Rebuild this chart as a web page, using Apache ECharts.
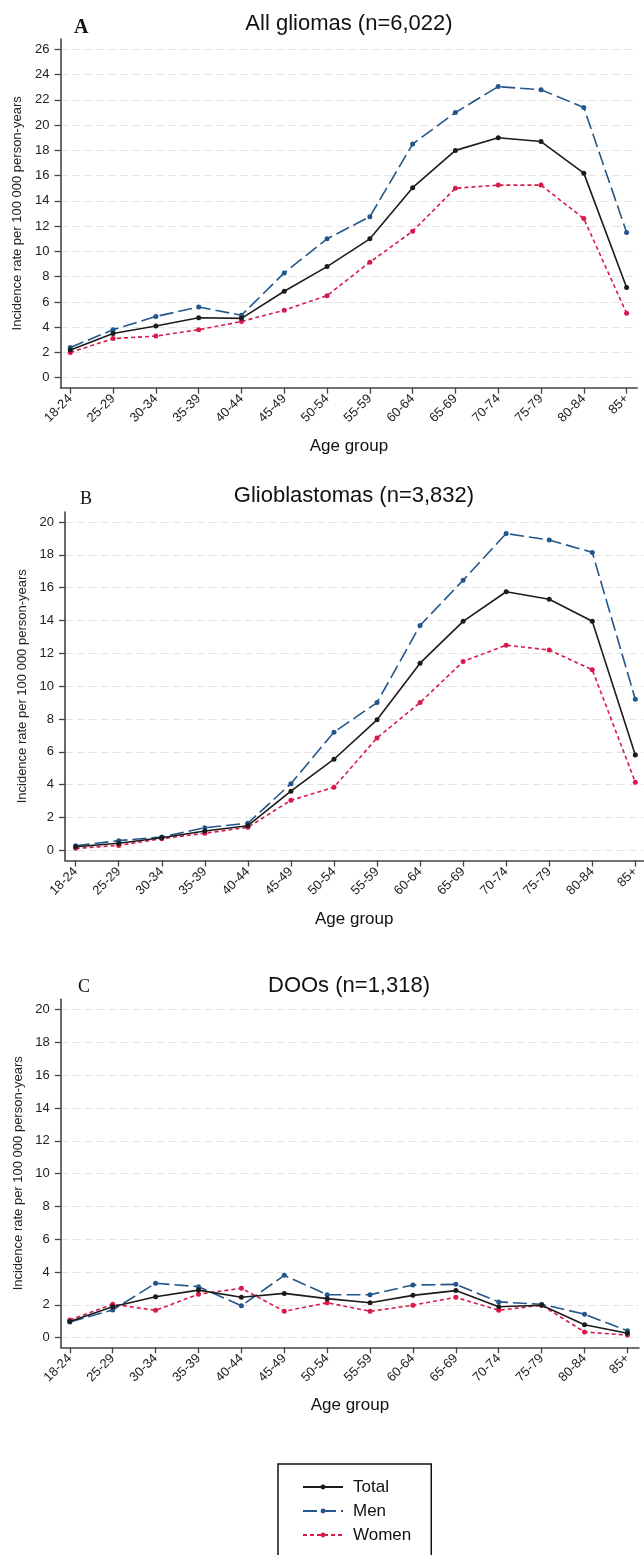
<!DOCTYPE html>
<html>
<head>
<meta charset="utf-8">
<script src="https://cdn.jsdelivr.net/npm/echarts@6/dist/echarts.min.js"></script>
<style>
html,body{margin:0;padding:0;background:#fff;}
#chart{width:644px;height:1555px;}
</style>
</head>
<body>
<div id="chart"></div>
<script>
// ---------- data ----------
const ageGroups = ['18-24','25-29','30-34','35-39','40-44','45-49','50-54','55-59','60-64','65-69','70-74','75-79','80-84','85+'];
const xTicks = [0,1,2,3,4,5,6,7,8,9,10,11,12,13];
const yTicksA = [0,2,4,6,8,10,12,14,16,18,20,22,24,26];
const yTicksBC = [0,2,4,6,8,10,12,14,16,18,20];

const gliomaTotal = [2.2,3.5,4.1,4.75,4.7,6.85,8.8,11.0,15.05,18.0,19.0,18.7,16.2,7.15];
const gliomaMen   = [2.4,3.8,4.85,5.6,4.95,8.3,11.0,12.75,18.5,21.0,23.05,22.8,21.4,11.5];
const gliomaWomen = [2.0,3.1,3.3,3.8,4.45,5.35,6.5,9.15,11.6,15.0,15.25,15.25,12.6,5.1];

const gbmTotal = [0.22,0.43,0.77,1.18,1.5,3.6,5.55,7.95,11.4,13.95,15.75,15.3,13.95,5.8];
const gbmMen   = [0.28,0.59,0.81,1.38,1.65,4.06,7.2,9.0,13.7,16.45,19.3,18.9,18.15,9.2];
const gbmWomen = [0.12,0.3,0.71,1.04,1.4,3.05,3.84,6.85,9.0,11.5,12.5,12.2,11.0,4.15];

const dooTotal = [0.98,1.89,2.5,2.9,2.46,2.7,2.38,2.13,2.58,2.87,1.89,1.98,0.79,0.27];
const dooMen   = [0.96,1.69,3.32,3.11,1.95,3.8,2.62,2.62,3.21,3.25,2.18,2.04,1.43,0.43];
const dooWomen = [1.08,2.04,1.67,2.65,3.01,1.61,2.13,1.61,1.98,2.46,1.67,1.98,0.35,0.16];

const titles = ['All gliomas (n=6,022)','Glioblastomas (n=3,832)','DOOs (n=1,318)'];
const letters = ['A','B','C'];
const seriesNames = ['Total','Men','Women'];

// ---------- styling ----------
const SANS = '"Liberation Sans", Arial, sans-serif';
const SERIF = '"Liberation Serif", "Times New Roman", serif';
const axisColor = '#444';
const colors = {Total:'#1c1c1c', Men:'#23568a', Women:'#d8194b'};
const dash = {Total:'solid', Men:[14,5], Women:[4,3]};

const panels = [
  {grid:{left:60.5, right:6.7, top:39, height:348.7}, xmin:-0.229, xmax:13.25, ymin:-0.79, ymax:26.82, yt:yTicksA,
   data:[gliomaTotal,gliomaMen,gliomaWomen], titleTop:13, titleX:349, letterX:74, letterTop:18, letterBold:'bold', letterSize:20},
  {grid:{left:65, right:0.5, top:512, height:348.5}, xmin:-0.248, xmax:13.19, ymin:-0.62, ymax:20.61, yt:yTicksBC,
   data:[gbmTotal,gbmMen,gbmWomen], titleTop:485, titleX:354, letterX:80, letterTop:490, letterBold:'normal', letterSize:18},
  {grid:{left:60.8, right:5, top:999.3, height:348}, xmin:-0.21, xmax:13.27, ymin:-0.585, ymax:20.62, yt:yTicksBC,
   data:[dooTotal,dooMen,dooWomen], titleTop:975, titleX:349, letterX:78, letterTop:978, letterBold:'normal', letterSize:18}
];

const grid = [], xAxis = [], yAxis = [], series = [], title = [];
panels.forEach((p, k) => {
  grid.push(Object.assign({containLabel:false}, p.grid));
  title.push({text:titles[k], left:p.titleX, top:p.titleTop, textAlign:'center', padding:0,
    textStyle:{fontFamily:SANS, fontSize:22, fontWeight:'normal', color:'#111'}});
  title.push({text:letters[k], left:p.letterX, top:p.letterTop, padding:0,
    textStyle:{fontFamily:SERIF, fontSize:p.letterSize, fontWeight:p.letterBold, color:'#111'}});
  xAxis.push({
    type:'value', gridIndex:k, min:p.xmin, max:p.xmax,
    name:'Age group', nameLocation:'middle', nameGap:50,
    nameTextStyle:{fontFamily:SANS, fontSize:17, color:'#111'},
    axisLine:{show:true, onZero:false, lineStyle:{color:axisColor, width:1.6}},
    axisTick:{show:true, customValues:xTicks, length:6, lineStyle:{color:axisColor, width:1.3}},
    axisLabel:{customValues:xTicks, rotate:45, margin:9, fontFamily:SANS, fontSize:13, color:'#222',
      formatter:(v)=>ageGroups[Math.round(v)]},
    splitLine:{show:false}
  });
  yAxis.push({
    type:'value', gridIndex:k, min:p.ymin, max:p.ymax,
    name:'Incidence rate per 100 000 person-years', nameLocation:'middle', nameGap:36,
    nameTextStyle:{fontFamily:SANS, fontSize:13, color:'#222'},
    axisLine:{show:true, onZero:false, lineStyle:{color:axisColor, width:1.6}},
    axisTick:{show:true, customValues:p.yt, length:6, lineStyle:{color:axisColor, width:1.3}},
    axisLabel:{customValues:p.yt, margin:11, fontFamily:SANS, fontSize:13, color:'#222'},
    splitLine:{show:true, lineStyle:{color:'#e3e3e3', width:1, type:[8,4]}}
  });
  p.data.forEach((arr, j) => {
    const nm = seriesNames[j];
    series.push({
      name:nm, type:'line', xAxisIndex:k, yAxisIndex:k,
      data:arr.map((v,i)=>[xTicks[i], v]),
      symbol:'circle', symbolSize:5, showSymbol:true,
      itemStyle:{color:colors[nm]},
      lineStyle:{color:colors[nm], width:1.6, type:dash[nm]},
      z: 3 - j,
      animation:false
    });
  });
});

const chart = echarts.init(document.getElementById('chart'), null, {renderer:'canvas'});
chart.setOption({
  animation:false,
  backgroundColor:'#fff',
  title, grid, xAxis, yAxis, series,
  legend:{
    data:seriesNames, orient:'vertical', left:278, top:1464, width:110, height:90,
    padding:[13,20,60,24], itemGap:4, itemWidth:40, itemHeight:6,
    borderColor:'#111', borderWidth:1.5, backgroundColor:'#fff',
    textStyle:{fontFamily:SANS, fontSize:17, lineHeight:20, color:'#111', padding:[0,0,0,5]}
  }
});
</script>
</body>
</html>
